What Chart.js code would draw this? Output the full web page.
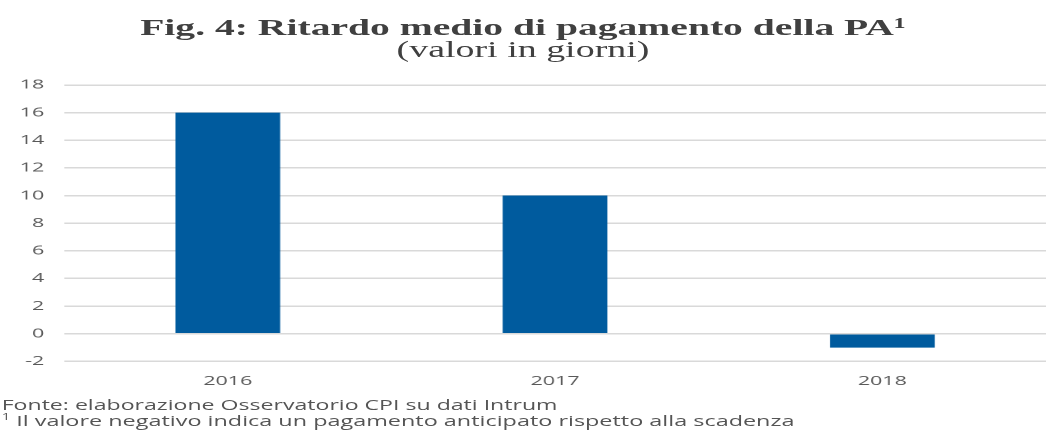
<!DOCTYPE html>
<html>
<head>
<meta charset="utf-8">
<script src="https://cdn.jsdelivr.net/npm/chart.js@4"></script>
<style>
    html, body { margin: 0; padding: 0; background: #fff; overflow: hidden; }
    /* the reference is stretched sideways, so the whole figure is drawn narrow and widened */
    #wrap {
        position: relative;
        width: 634px;
        height: 430px;
        transform: scaleX(1.6498);
        transform-origin: 0 0;
    }
    #chart { position: absolute; left: 0; top: 0; }
    .title {
        position: absolute;
        left: 0;
        width: 634px;
        text-align: center;
        font-family: "Liberation Serif", "DejaVu Serif", serif;
        color: #404040;
        white-space: nowrap;
        line-height: normal;
    }
    .note {
        position: absolute;
        left: 1px;
        font-family: "Open Sans", "DejaVu Sans", sans-serif;
        font-size: 14px;
        color: #555;
        white-space: nowrap;
        line-height: normal;
    }
</style>
</head>
<body>
<div id="wrap">
    <canvas id="chart" width="634" height="401"></canvas>
    <div class="title" style="top:14px; font-size:24px; font-weight:bold;">Fig. 4: Ritardo medio di pagamento della PA¹</div>
    <div class="title" style="top:37px; font-size:23px;">(valori in giorni)</div>
    <div class="note" style="top:395px;">Fonte: elaborazione Osservatorio CPI su dati Intrum</div>
    <div class="note" style="top:410px; font-size:14.2px;"><sup style="font-size:9px;">1</sup> Il valore negativo indica un pagamento anticipato rispetto alla scadenza</div>
</div>
<script>
// Chart data
const years = ['2016', '2017', '2018'];
const delayDays = [16, 10, -1];
const yTicks = [-2, 0, 2, 4, 6, 8, 10, 12, 14, 16, 18];

function setupChart() {
    const canvas = document.getElementById('chart');
    const ctx = canvas.getContext('2d');

    new Chart(ctx, {
        type: 'bar',
        data: {
            labels: years,
            datasets: [{
                data: delayDays,
                backgroundColor: '#005b9e',
                borderWidth: 0,
                barPercentage: 0.32,
                categoryPercentage: 1
            }]
        },
        options: {
            responsive: false,
            animation: false,
            devicePixelRatio: 2,
            layout: { padding: { left: 0, right: 0, top: 85, bottom: 0 } },
            scales: {
                x: {
                    grid: { display: false, drawTicks: false },
                    border: { display: false },
                    ticks: {
                        color: '#595959',
                        font: { family: 'Open Sans', size: 13 },
                        padding: 12
                    }
                },
                y: {
                    min: -2,
                    max: 18,
                    afterBuildTicks: function(axis) {
                        axis.ticks = yTicks.map(v => ({ value: v }));
                    },
                    grid: { color: '#d9d9d9', lineWidth: 1.5, drawTicks: false },
                    border: { display: false },
                    ticks: {
                        color: '#595959',
                        font: { family: 'Open Sans', size: 13 },
                        padding: 12
                    }
                }
            },
            plugins: {
                legend: { display: false },
                tooltip: { enabled: false }
            }
        }
    });
}

document.addEventListener('DOMContentLoaded', function() {
    setupChart();
});
</script>
</body>
</html>
